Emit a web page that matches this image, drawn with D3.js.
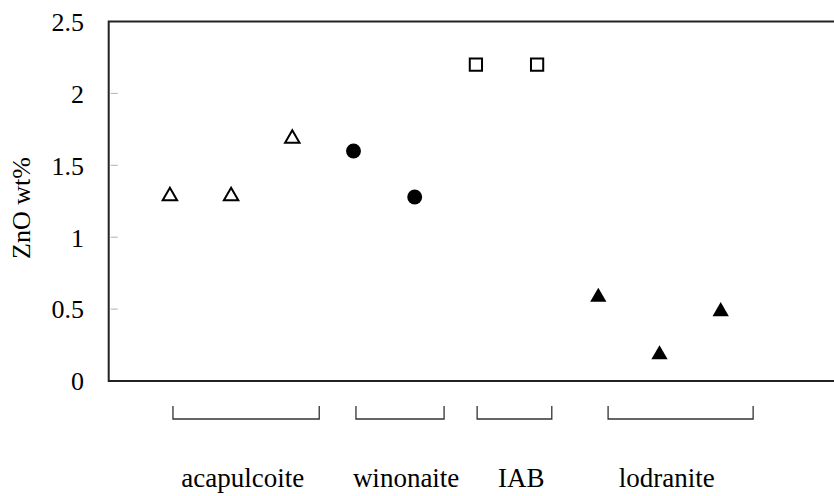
<!DOCTYPE html>
<html>
<head>
<meta charset="utf-8">
<script src="https://cdn.jsdelivr.net/npm/d3@7"></script>
<style>
  body { margin: 0; background: #fff; }
  text { font-family: "Liberation Serif", "Times New Roman", serif; fill: #000; }
</style>
</head>
<body>
<svg id="chart" width="834" height="496"></svg>
<script>
// sample index along the x axis (1..10) and ZnO wt%
var acapulcoiteX = [1, 2, 3];
var acapulcoiteY = [1.3, 1.3, 1.7];
var winonaiteX = [4, 5];
var winonaiteY = [1.6, 1.28];
var iabX = [6, 7];
var iabY = [2.2, 2.2];
var lodraniteX = [8, 9, 10];
var lodraniteY = [0.6, 0.2, 0.5];

var yTicks = [0, 0.5, 1, 1.5, 2, 2.5];

// group brackets under the axis, in x units
var groupNames = ['acapulcoite', 'winonaite', 'IAB', 'lodranite'];
var groupStart = [1.05, 4.04, 6.02, 8.16];
var groupEnd = [3.44, 5.48, 7.24, 10.53];
var groupLabelAt = [2.19, 4.86, 6.74, 9.12];

(function () {
    var svg = d3.select('#chart');
    var left = 108.7, plotTop = 21.5, bottom = 381;

    var x = d3.scaleLinear().domain([0, 12]).range([left, left + 12 * 61.2]);
    var y = d3.scaleLinear().domain([0, 2.5]).range([bottom, plotTop]);

    // faint inner ticks
    svg.append('g').selectAll('line')
        .data(yTicks.filter(function (d) { return d > 0 && d < 2.5; }))
        .enter().append('line')
        .attr('x1', left + 2).attr('x2', left + 9)
        .attr('y1', function (d) { return y(d); })
        .attr('y2', function (d) { return y(d); })
        .attr('stroke', '#b0b0b0').attr('stroke-width', 1);

    // frame: left, top, bottom (right side runs off the page)
    svg.append('path')
        .attr('d', 'M834,' + plotTop + 'H' + left + 'V' + bottom + 'H834')
        .attr('fill', 'none').attr('stroke', '#222').attr('stroke-width', 2);

    svg.append('g').selectAll('text')
        .data(yTicks)
        .enter().append('text')
        .attr('x', 84)
        .attr('y', function (d) { return y(d); })
        .attr('dy', '0.36em')
        .attr('text-anchor', 'end')
        .style('font-size', '26px')
        .text(function (d) { return d; });

    svg.append('text')
        .attr('transform', 'translate(30,208) rotate(-90)')
        .attr('text-anchor', 'middle')
        .style('font-size', '26px')
        .text('ZnO wt%');

    function pts(xs, ys) {
        return xs.map(function (v, i) { return {x: v, y: ys[i]}; });
    }

    function drawSeries(data, type, size, filled) {
        svg.append('g').selectAll('path')
            .data(data)
            .enter().append('path')
            .attr('d', d3.symbol().type(type).size(size))
            .attr('transform', function (d) {
                // centre the triangle's box, not its centroid
                var dy = type === d3.symbolTriangle ? Math.sqrt(size / (3 * Math.sqrt(3))) * 0.5 : 0;
                return 'translate(' + x(d.x) + ',' + (y(d.y) + dy) + ')';
            })
            .attr('fill', filled ? '#000' : '#fff')
            .attr('stroke', '#000')
            .attr('stroke-width', filled ? 0 : 2);
    }

    drawSeries(pts(acapulcoiteX, acapulcoiteY), d3.symbolTriangle, 90, false);
    drawSeries(pts(winonaiteX, winonaiteY), d3.symbolCircle, 175, true);
    drawSeries(pts(iabX, iabY), d3.symbolSquare, 150, false);
    drawSeries(pts(lodraniteX, lodraniteY), d3.symbolTriangle, 115, true);

    // brackets
    var bTop = 406, bBot = 419;
    svg.append('g').selectAll('path')
        .data(groupNames.map(function (n, i) { return i; }))
        .enter().append('path')
        .attr('d', function (i) {
            return 'M' + x(groupStart[i]) + ',' + bTop + 'V' + bBot +
                'H' + x(groupEnd[i]) + 'V' + bTop;
        })
        .attr('fill', 'none').attr('stroke', '#333').attr('stroke-width', 1.3);

    svg.append('g').selectAll('text')
        .data(groupNames)
        .enter().append('text')
        .attr('x', function (d, i) { return x(groupLabelAt[i]); })
        .attr('y', 487)
        .attr('text-anchor', 'middle')
        .style('font-size', '27px')
        .text(function (d) { return d; });
})();
</script>
</body>
</html>
